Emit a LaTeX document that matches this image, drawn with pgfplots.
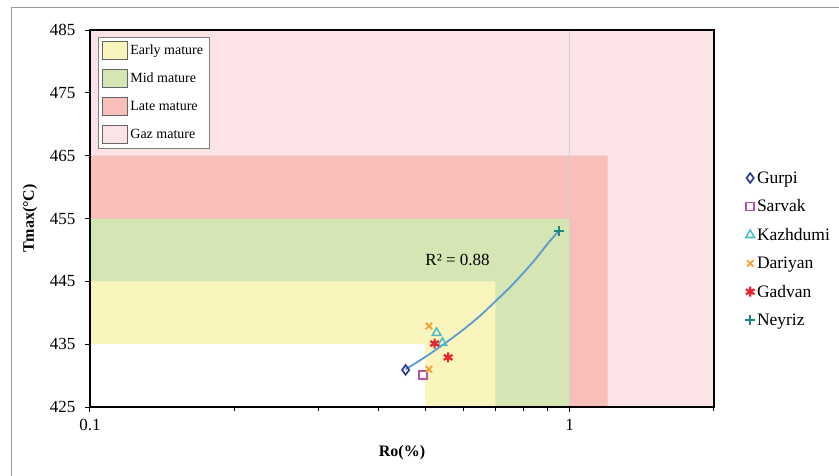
\documentclass[border=0pt]{standalone}
\usepackage{pgfplots}
\pgfplotsset{compat=1.18}
\usepackage{fontspec}
\setmainfont{Liberation Serif}
\definecolor{gazc}{HTML}{FCE3E6}
\definecolor{latec}{HTML}{F8BEBA}
\definecolor{midc}{HTML}{D5E5B3}
\definecolor{earlyc}{HTML}{FAF5BC}
\definecolor{gurpic}{HTML}{2E3B96}
\definecolor{sarvakc}{HTML}{B64FB2}
\definecolor{kazc}{HTML}{4DBFC9}
\definecolor{darc}{HTML}{F4A233}
\definecolor{gadc}{HTML}{E8232B}
\definecolor{neyc}{HTML}{1B897F}
\definecolor{trendc}{HTML}{5B9BD5}
\begin{document}
\begin{tikzpicture}[x=1pt,y=1pt]
\useasboundingbox (0,0) rectangle (839,475);
\draw[gray!80, line width=1pt] (11,-5) -- (11,467) -- (850,467);
\begin{axis}[
  at={(90pt,68pt)}, anchor=south west, scale only axis,
  width=624pt, height=377pt,
  xmode=log, xmin=0.1, xmax=2, ymin=425, ymax=485,
  xtick={0.1,1}, xticklabels={0.1,1},
  minor xtick={0.2,0.3,0.4,0.5,0.6,0.7,0.8,0.9,2},
  ytick={425,435,445,455,465,475,485},
  xtick pos=bottom, ytick pos=left,
  tick align=outside, major tick length=5pt, minor tick length=4pt,
  axis line style={line width=1.3pt},
  tick style={black, line width=1pt},
  axis on top,
  xmajorgrids, major grid style={gray!35, line width=1pt},
  /pgf/number format/assume math mode=true,
  ticklabel style={font=\fontsize{17}{20}\selectfont},
  xticklabel style={yshift=-4pt},
  yticklabel style={xshift=-6pt},
  xlabel={\textbf{Ro(\%)}}, ylabel={\textbf{Tmax(°C)}},
  label style={font=\fontsize{16}{19}\selectfont},
  xlabel style={at={(axis description cs:0.5,-0.12)}, anchor=center},
  ylabel style={at={(axis description cs:-0.096,0.5)}, anchor=center},
  legend cell align=left,
  legend style={at={(0.013,0.982)}, anchor=north west, draw=gray, fill=white,
    font=\fontsize{14}{16}\selectfont, row sep=9.5pt, inner sep=4pt,
    nodes={inner sep=2.5pt}},
  legend image code/.code={\draw[#1, draw=gray!80!black, line width=0.6pt] (0pt,-9pt) rectangle (25pt,9pt);},
]
\addplot[fill=gazc, draw=none, forget plot] coordinates {(0.1,425) (2,425) (2,485) (0.1,485) (0.1,425)};
\addplot[fill=latec, draw=none, forget plot] coordinates {(0.1,425) (1.2,425) (1.2,465) (0.1,465) (0.1,425)};
\addplot[fill=midc, draw=none, forget plot] coordinates {(0.1,425) (1,425) (1,455) (0.1,455) (0.1,425)};
\addplot[fill=earlyc, draw=none, forget plot] coordinates {(0.1,425) (0.7,425) (0.7,445) (0.1,445) (0.1,425)};
\addplot[fill=white, draw=none, forget plot] coordinates {(0.1,425) (0.5,425) (0.5,435) (0.1,435) (0.1,425)};
\addlegendimage{fill=earlyc}\addlegendentry{Early mature}
\addlegendimage{fill=midc}\addlegendentry{Mid mature}
\addlegendimage{fill=latec}\addlegendentry{Late mature}
\addlegendimage{fill=gazc}\addlegendentry{Gaz mature}
\end{axis}
\begin{axis}[
  at={(90pt,68pt)}, anchor=south west, scale only axis,
  width=624pt, height=377pt,
  xmode=log, xmin=0.1, xmax=2, ymin=425, ymax=485,
  hide axis, clip=false,
  legend cell align=left,
  legend style={at={(1.05,0.419)}, anchor=west, draw=none, fill=none,
    font=\fontsize{17.5}{20}\selectfont, row sep=11pt, inner sep=0pt,
    nodes={inner sep=2pt}},
  legend image code/.code={\draw[#1] plot coordinates {(0.16cm,0cm)};},
]
\addplot[only marks, mark=diamond, mark size=4.8pt, draw=gurpic, mark options={line width=1.7pt}] coordinates {(0.455,430.9)};
\addlegendentry{Gurpi}
\addplot[only marks, mark=square, mark size=4pt, draw=sarvakc, mark options={line width=1.7pt}] coordinates {(0.494,430.1)};
\addlegendentry{Sarvak}
\addplot[only marks, mark=triangle, mark size=5pt, draw=kazc, mark options={line width=1.6pt}] coordinates {(0.528,436.8) (0.543,435.2)};
\addlegendentry{Kazhdumi}
\addplot[only marks, mark=x, mark size=4.5pt, draw=darc, mark options={line width=1.8pt}] coordinates {(0.509,437.9) (0.509,431.0)};
\addlegendentry{Dariyan}
\addplot[only marks, mark=asterisk, mark size=5pt, draw=gadc, mark options={line width=2.2pt}] coordinates {(0.523,435.1) (0.558,432.9)};
\addlegendentry{Gadvan}
\addplot[only marks, mark=+, mark size=4.8pt, draw=neyc, mark options={line width=1.9pt}] coordinates {(0.949,453.0)};
\addlegendentry{Neyriz}
\addplot[trendc, line width=1.8pt, smooth, forget plot] coordinates {
 (0.455,431.0) (0.5,432.96) (0.55,435.15) (0.6,437.3) (0.65,439.5) (0.7,441.8)
 (0.75,444.0) (0.8,446.3) (0.85,448.6) (0.9,451.0) (0.949,453.0)};
\node[font=\fontsize{17}{20}\selectfont] at (axis cs:0.584,448.4) {R² = 0.88};
\end{axis}
\end{tikzpicture}
\end{document}
